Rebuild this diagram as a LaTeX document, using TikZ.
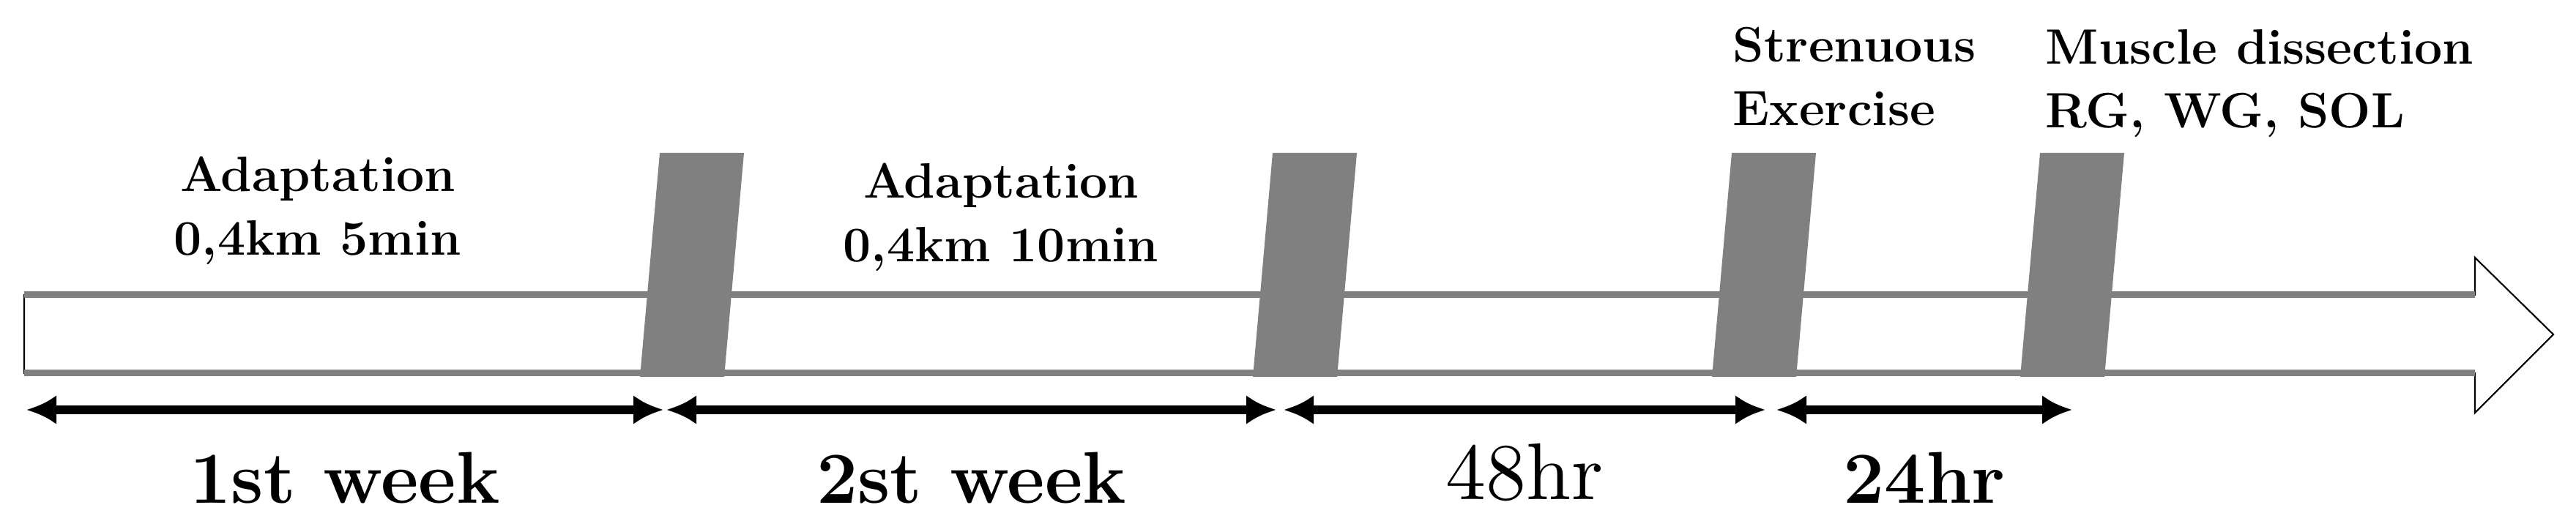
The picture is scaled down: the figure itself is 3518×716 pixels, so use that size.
\documentclass[tikz,border=0pt]{standalone}
\usepackage{fontspec}
\usetikzlibrary{arrows.meta}
\definecolor{bargray}{RGB}{128,128,128}
\newfontfamily\hourfont{lmroman10-regular}[Extension=.otf]

\begin{document}
\begin{tikzpicture}[x=0.1mm, y=0.1mm,
	span/.style={line width=1.2mm,
		{Latex[length=4.1mm,width=4mm]}-{Latex[length=4.1mm,width=4mm]}},
	phase/.style={fill=bargray},
	toplabel/.style={inner sep=0, font=\fontsize{19.3}{24.75}\selectfont\bfseries},
	spanlabel/.style={inner sep=0, font=\fontsize{28.5}{34}\selectfont\bfseries}]

\useasboundingbox (0,0) rectangle (3518,716);

% time axis
\draw [line width=0.6pt, fill=white] (33,206) -- (3380,206) -- (3380,152)
	-- (3487,259) -- (3380,364) -- (3380,313) -- (33,313) -- cycle;
\draw [line width=0.9mm, bargray] (33,313) -- (3380,313);
\draw [line width=0.9mm, bargray] (33,206) -- (3380,206);

% phases
\fill [phase] (874,201) -- ++(115,0) -- ++(27,306) -- ++(-115,0) -- cycle;
\fill [phase] (1711,201) -- ++(115,0) -- ++(27,306) -- ++(-115,0) -- cycle;
\fill [phase] (2338,201) -- ++(115,0) -- ++(27,306) -- ++(-115,0) -- cycle;
\fill [phase] (2759,201) -- ++(115,0) -- ++(27,306) -- ++(-115,0) -- cycle;

\node [toplabel, align=center, anchor=north] (adapt1) at (434,503)
	{Adaptation\\0,4km 5min};
\node [toplabel, align=center, anchor=north] (adapt2) at (1367,494)
	{Adaptation\\0,4km 10min};
\node [toplabel, align=left, anchor=north west] (exercise) at (2366,680)
	{Strenuous\\Exercise};
\node [toplabel, align=left, anchor=north west] (dissect) at (2793,676)
	{Muscle dissection\\RG, WG, SOL};

% durations
\coordinate (wk1s) at (36,156);
\coordinate (wk1e) at (906,156);
\coordinate (wk2s) at (910,156);
\coordinate (wk2e) at (1743,156);
\coordinate (h48s) at (1753,156);
\coordinate (h48e) at (2411,156);
\coordinate (h24s) at (2426,156);
\coordinate (h24e) at (2830,156);

\draw [span] (wk1s) -- (wk1e)
	node [pos=0.5, below=5.2mm, spanlabel] (wk1) {1st week};
\draw [span] (wk2s) -- (wk2e)
	node [pos=0.5, below=5.2mm, spanlabel] (wk2) {2st week};
\draw [span] (h48s) -- (h48e)
	node [pos=0.5, below=4mm, spanlabel,
		font=\hourfont\fontsize{31.3}{36}\selectfont]
	(h48) {48hr};
\draw [span] (h24s) -- (h24e)
	node [pos=0.5, below=5.2mm, spanlabel] (h24) {24hr};
\end{tikzpicture}
\end{document}
